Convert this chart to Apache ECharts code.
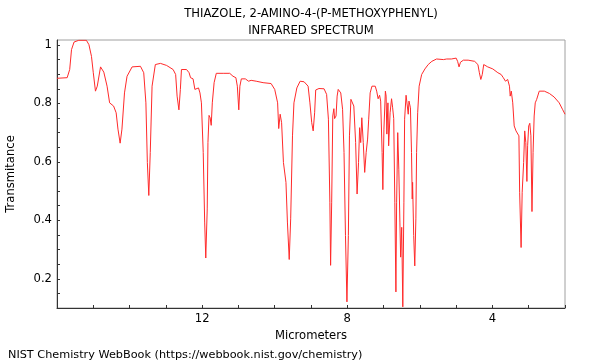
<!DOCTYPE html>
<html>
<head>
<meta charset="utf-8">
<script src="https://cdn.jsdelivr.net/npm/echarts@6/dist/echarts.min.js"></script>
<style>html,body{margin:0;padding:0;background:#fff}#c{width:600px;height:360px}</style>
</head>
<body>
<div id="c"></div>
<script>
const titleLines = ["THIAZOLE, 2-AMINO-4-(P-METHOXYPHENYL)", "INFRARED SPECTRUM"];
const xAxisName = "Micrometers";
const yAxisName = "Transmitance";
const footer = "NIST Chemistry WebBook (https://webbook.nist.gov/chemistry)";
const xTickLabels = [4, 8, 12];

const wavelength = [16.0,15.72,15.65,15.60,15.53,15.40,15.19,15.12,15.05,15.00,14.94,14.89,14.80,14.71,14.62,14.55,14.44,14.37,14.32,14.26,14.21,14.14,14.07,13.93,13.70,13.61,13.55,13.51,13.47,13.43,13.38,13.29,13.15,12.98,12.80,12.73,12.69,12.64,12.60,12.57,12.43,12.36,12.32,12.25,12.20,12.16,12.10,12.06,12.02,11.97,11.93,11.90,11.86,11.84,11.81,11.78,11.75,11.72,11.67,11.61,11.42,11.24,11.15,11.07,11.03,10.99,10.96,10.92,10.81,10.72,10.65,10.51,10.32,10.10,10.00,9.92,9.89,9.85,9.81,9.76,9.69,9.65,9.60,9.56,9.51,9.47,9.39,9.30,9.19,9.08,9.03,8.98,8.94,8.90,8.87,8.78,8.64,8.57,8.52,8.48,8.46,8.43,8.40,8.37,8.35,8.31,8.28,8.25,8.18,8.13,8.09,8.05,8.01,7.97,7.94,7.90,7.86,7.82,7.77,7.73,7.69,7.66,7.63,7.60,7.56,7.52,7.48,7.44,7.41,7.37,7.32,7.23,7.19,7.15,7.11,7.08,7.04,7.02,6.99,6.95,6.93,6.91,6.88,6.86,6.82,6.78,6.75,6.72,6.69,6.66,6.64,6.61,6.58,6.55,6.53,6.50,6.47,6.44,6.42,6.38,6.35,6.32,6.30,6.26,6.23,6.21,6.20,6.17,6.14,6.11,6.09,6.06,6.02,5.95,5.86,5.77,5.67,5.54,5.35,5.31,5.26,5.13,5.00,4.96,4.92,4.88,4.80,4.67,4.49,4.40,4.36,4.32,4.28,4.24,4.13,3.99,3.85,3.76,3.70,3.64,3.58,3.53,3.51,3.48,3.44,3.40,3.35,3.30,3.27,3.25,3.21,3.18,3.14,3.11,3.08,3.05,3.03,3.00,2.97,2.94,2.91,2.88,2.85,2.82,2.78,2.71,2.57,2.43,2.30,2.16,2.07,2.00];

const transmittance = [0.886,0.888,0.916,0.984,1.010,1.016,1.016,1.001,0.961,0.905,0.842,0.859,0.925,0.907,0.859,0.802,0.791,0.768,0.712,0.664,0.712,0.836,0.893,0.925,0.927,0.905,0.802,0.598,0.485,0.632,0.859,0.933,0.937,0.930,0.916,0.899,0.825,0.778,0.848,0.916,0.916,0.905,0.888,0.884,0.848,0.853,0.853,0.836,0.802,0.632,0.394,0.271,0.439,0.666,0.759,0.751,0.725,0.802,0.871,0.903,0.903,0.903,0.893,0.888,0.859,0.778,0.859,0.884,0.884,0.876,0.879,0.876,0.871,0.868,0.848,0.802,0.714,0.763,0.734,0.598,0.530,0.394,0.266,0.405,0.689,0.802,0.853,0.876,0.874,0.859,0.802,0.734,0.706,0.768,0.846,0.851,0.850,0.831,0.746,0.462,0.246,0.462,0.757,0.782,0.748,0.757,0.825,0.848,0.836,0.780,0.632,0.348,0.121,0.348,0.689,0.814,0.819,0.791,0.666,0.490,0.598,0.717,0.666,0.751,0.666,0.564,0.632,0.678,0.746,0.836,0.859,0.859,0.842,0.816,0.828,0.808,0.632,0.505,0.712,0.842,0.825,0.695,0.802,0.655,0.768,0.816,0.785,0.748,0.462,0.155,0.462,0.700,0.575,0.394,0.274,0.376,0.104,0.462,0.746,0.828,0.825,0.763,0.808,0.785,0.632,0.473,0.530,0.348,0.244,0.405,0.632,0.768,0.859,0.899,0.918,0.933,0.944,0.952,0.950,0.944,0.952,0.952,0.955,0.944,0.925,0.941,0.948,0.948,0.944,0.933,0.905,0.882,0.899,0.933,0.925,0.918,0.905,0.899,0.888,0.876,0.882,0.859,0.825,0.842,0.802,0.723,0.706,0.712,0.689,0.496,0.307,0.496,0.598,0.706,0.666,0.533,0.655,0.723,0.732,0.689,0.430,0.632,0.757,0.802,0.814,0.842,0.842,0.834,0.822,0.802,0.780,0.763];

const seriesData = wavelength.map((w, i) => [w, transmittance[i]]);
const FONT = "DejaVu Sans";

const chart = echarts.init(document.getElementById('c'), null, {renderer: 'canvas'});
chart.setOption({
  animation: false,
  backgroundColor: '#fff',
  title: [
    {text: titleLines.join('\n'), left: 306, top: 0, textAlign: 'center',
     textStyle: {fontFamily: FONT, fontSize: 11.6, fontWeight: 'normal', color: '#000', lineHeight: 17}},
    {text: footer, left: 3, top: 345,
     textStyle: {fontFamily: FONT, fontSize: 11.25, fontWeight: 'normal', color: '#000'}}
  ],
  grid: {left: 57, right: 35, top: 40, bottom: 52, outerBoundsMode: 'none', containLabel: false,
         show: true, borderColor: '#a0a0a0', borderWidth: 1, backgroundColor: 'transparent'},
  xAxis: {
    type: 'value', inverse: true, min: 2, max: 16, interval: 1,
    name: xAxisName, nameLocation: 'middle', nameGap: 22,
    nameTextStyle: {fontFamily: FONT, fontSize: 11.6, color: '#000'},
    axisLine: {show: true, onZero: false, lineStyle: {color: '#333', width: 1}},
    axisTick: {show: true, inside: true, length: 3, lineStyle: {color: '#333'}},
    axisLabel: {fontFamily: FONT, fontSize: 11.6, color: '#000', margin: 5,
      formatter: v => xTickLabels.indexOf(Math.round(v)) >= 0 && Math.abs(v - Math.round(v)) < 1e-6 ? String(Math.round(v)) : ''},
    splitLine: {show: false}
  },
  yAxis: {
    type: 'value', min: 0.1, max: 1.017, interval: 0.05,
    name: yAxisName, nameLocation: 'middle', nameGap: 40,
    nameTextStyle: {fontFamily: FONT, fontSize: 11.6, color: '#000'},
    axisLine: {show: true, onZero: false, lineStyle: {color: '#333', width: 1}},
    axisTick: {show: true, inside: true, length: 3, lineStyle: {color: '#333'}},
    axisLabel: {fontFamily: FONT, fontSize: 11.6, color: '#000', margin: 5, showMaxLabel: false,
      formatter: v => { const k = v * 5; return Math.abs(k - Math.round(k)) < 1e-6 ? String(Math.round(k) / 5) : ''; }},
    splitLine: {show: false}
  },
  series: [{
    type: 'line', data: seriesData, showSymbol: false, symbol: 'none', smooth: false,
    lineStyle: {color: '#ff2a2a', width: 1}, clip: true
  }]
});
</script>
</body>
</html>
